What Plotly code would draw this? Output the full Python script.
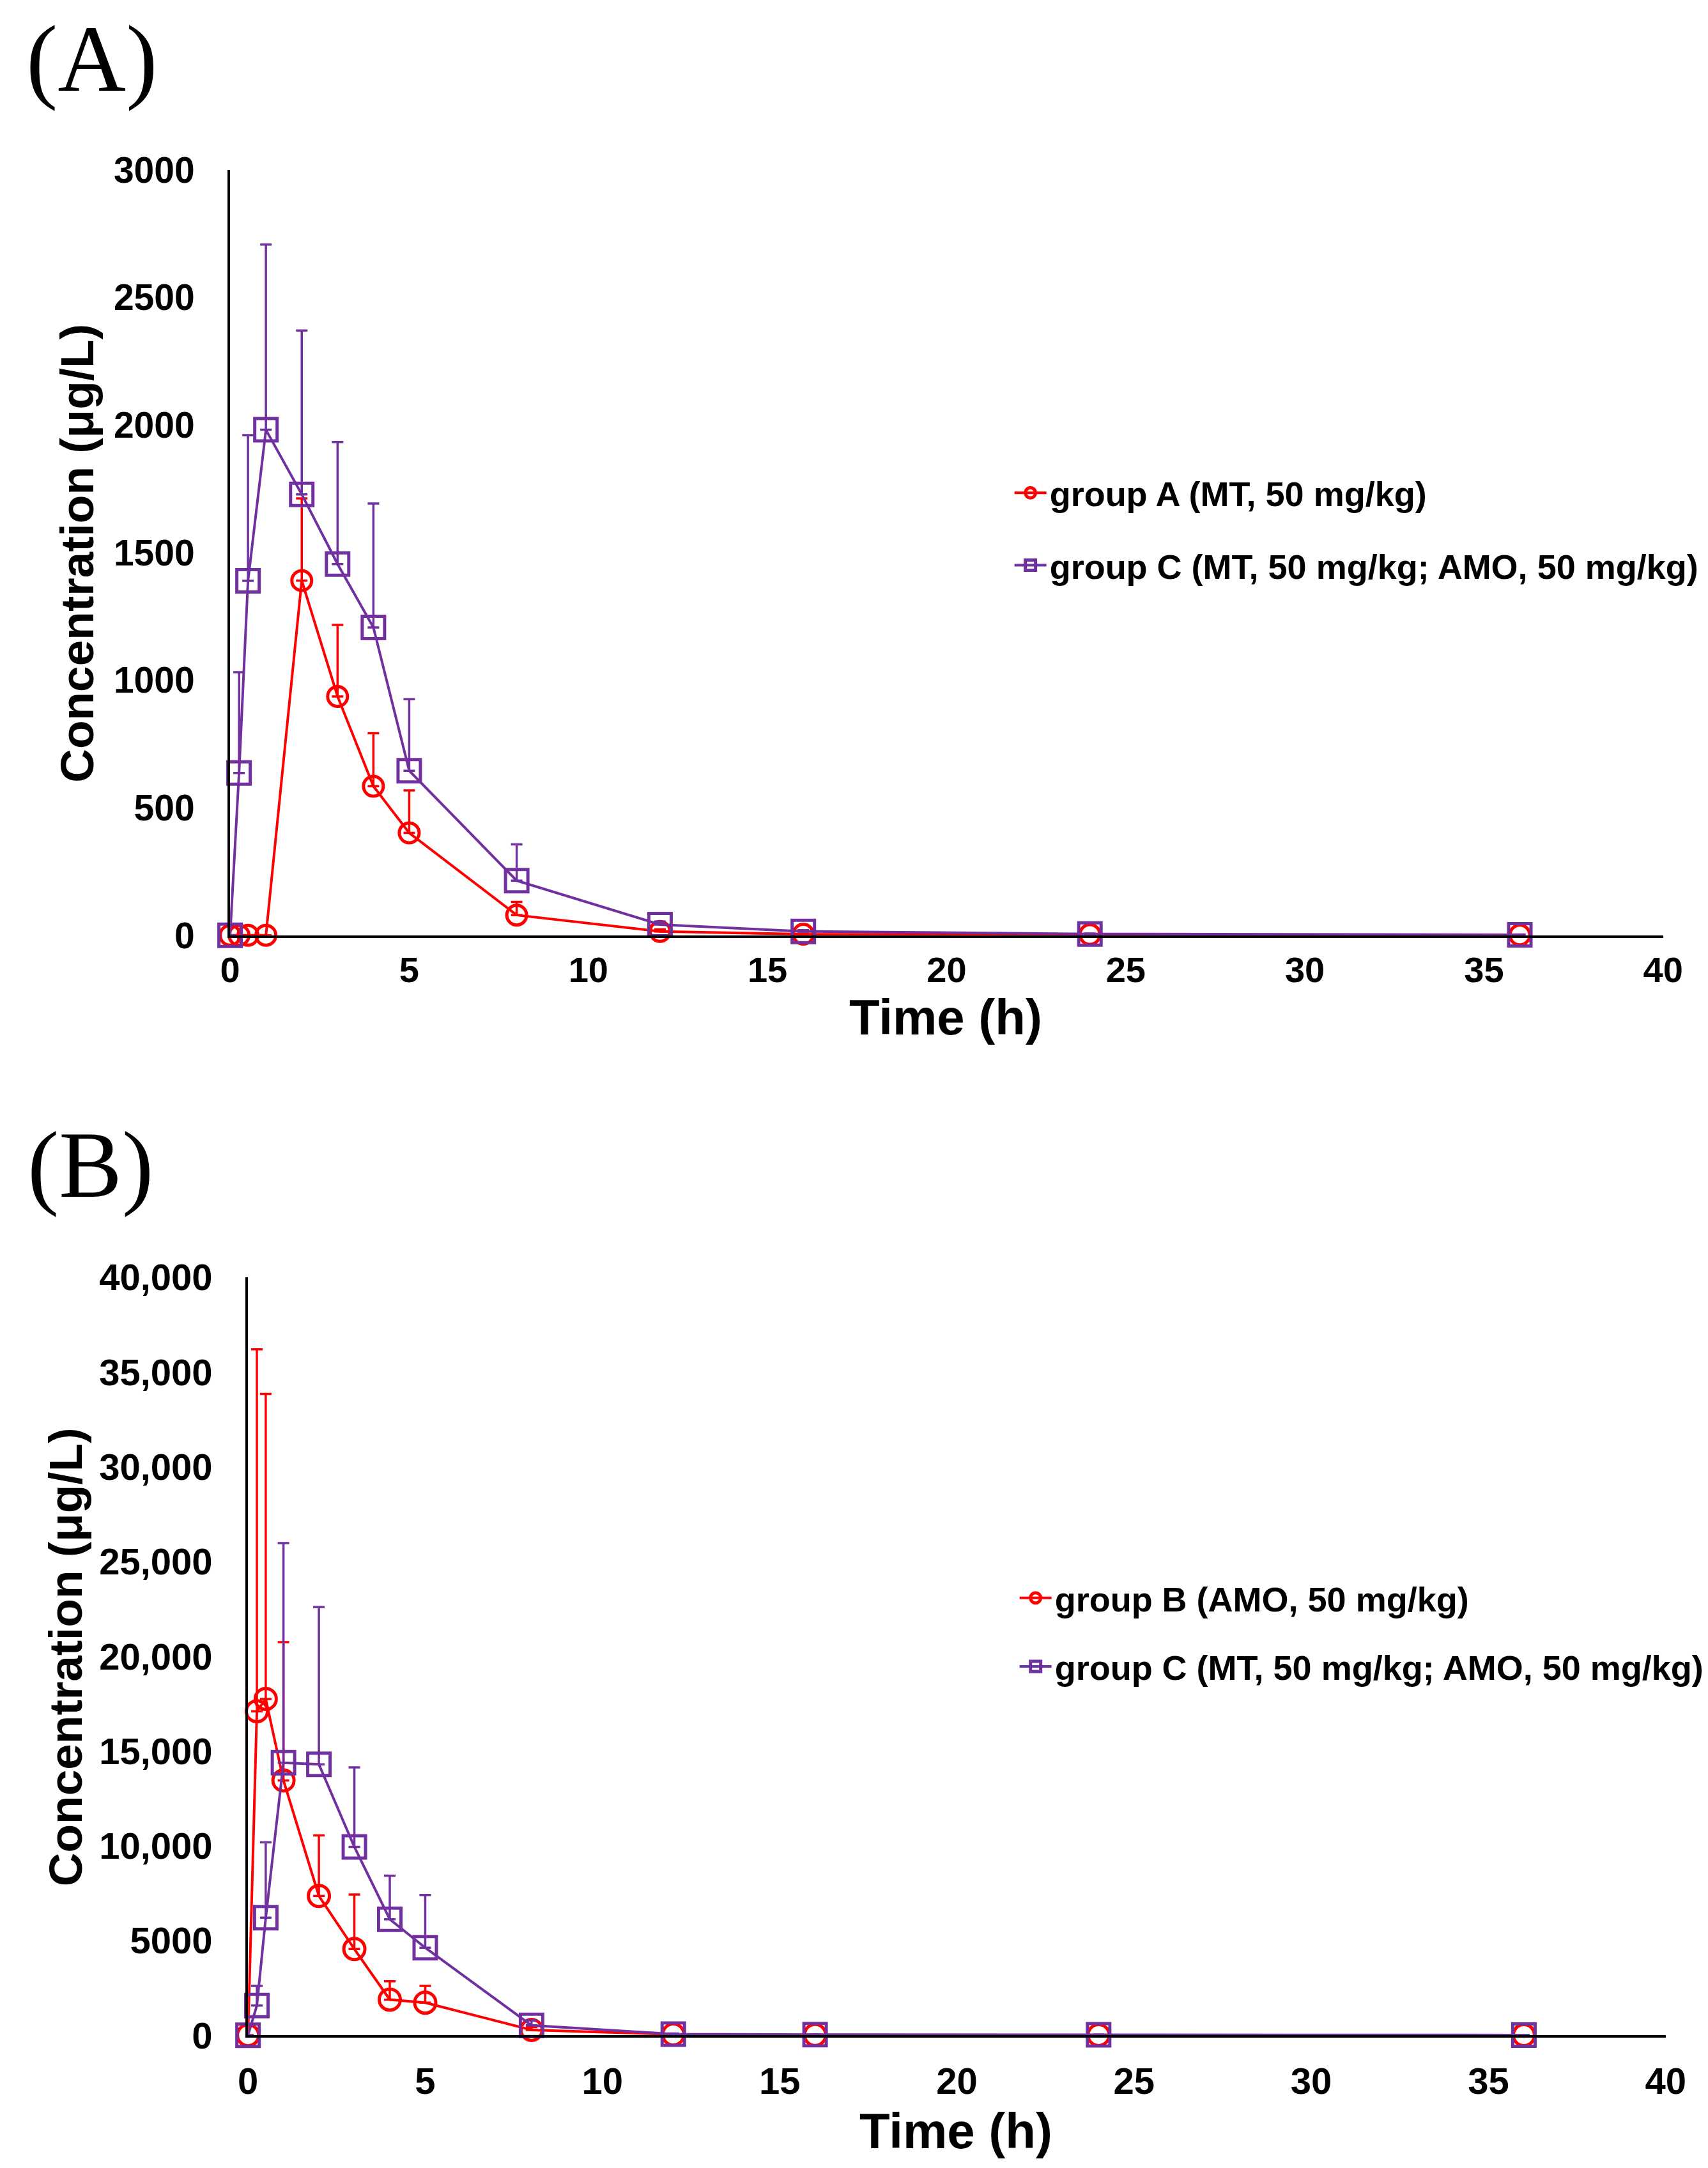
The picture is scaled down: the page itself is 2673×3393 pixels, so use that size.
import plotly.graph_objects as go

W, H = 2673, 3393

# sampling times (h)
t_a = [0, 0.25, 0.5, 1, 2, 3, 4, 5, 8, 12, 16, 24, 36]
t_b = [0, 0.25, 0.5, 1, 2, 3, 4, 5, 8, 12, 16, 24, 36]

# panel A: MT concentration (ug/L), mean and upper SD
grpA_mean = [0, 0, 0, 0, 1390, 936, 584, 401, 79, 15, 4, 3, 1]
grpA_sd = [0, 0, 0, 0, 322, 280, 208, 167, 52, 8, 2, 1, 1]
grpC_mt_mean = [0, 636, 1389, 1981, 1728, 1455, 1206, 645, 214, 42, 15, 5, 2]
grpC_mt_sd = [0, 395, 571, 726, 642, 478, 486, 280, 142, 12, 5, 2, 1]

# panel B: AMO concentration (ug/L), mean and upper SD
grpB_mean = [0, 17100, 17750, 13450, 7350, 4550, 1880, 1720, 280, 40, 15, 10, 5]
grpB_sd = [0, 19100, 16100, 7300, 3200, 2880, 970, 880, 150, 20, 8, 5, 3]
grpC_amo_mean = [0, 1570, 6200, 14380, 14300, 9940, 6120, 4620, 520, 60, 30, 20, 10]
grpC_amo_sd = [0, 1030, 3980, 11600, 8300, 4200, 2300, 2780, 260, 30, 10, 8, 5]

ticks_a = [0, 500, 1000, 1500, 2000, 2500, 3000]
ticks_b = [0, 5000, 10000, 15000, 20000, 25000, 30000, 35000, 40000]
ticktext_b = ["0", "5000", "10,000", "15,000", "20,000", "25,000", "30,000", "35,000", "40,000"]

RED = "#FF0000"
PURPLE = "#7030A0"
SANS = "Liberation Sans, Arial, sans-serif"
SERIF = "Liberation Serif, Times New Roman, serif"

# the page shot comes out slightly shrunk and shifted, so pixel targets are pre-corrected
K, OX, OY = 0.98, 22.6, 41.5


def px_x(p):
    return ((p - OX) / K) / W


def px_y(p):
    return 1 - ((p - OY) / K) / H


def add_series(fig, t, mean, sd, name, color, symbol, size, xa, ya, legend, group):
    fig.add_trace(go.Scatter(
        x=t, y=mean, name=name, mode="lines+markers",
        line=dict(color=color, width=4),
        marker=dict(symbol=symbol, size=size, color=color, line=dict(color=color, width=5)),
        error_y=dict(type="data", array=sd, arrayminus=[0] * len(sd), symmetric=False,
                     color=color, thickness=3.5, width=9),
        xaxis=xa, yaxis=ya, legend=legend, legendgroup=group, cliponaxis=False,
    ))


fig = go.Figure()

add_series(fig, t_a, grpA_mean, grpA_sd, "group A (MT, 50 mg/kg)", RED, "circle-open", 31,
           "x", "y", "legend", "a1")
add_series(fig, t_a, grpC_mt_mean, grpC_mt_sd, "group C (MT, 50 mg/kg; AMO, 50 mg/kg)", PURPLE,
           "square-open", 35, "x", "y", "legend", "a2")
add_series(fig, t_b, grpB_mean, grpB_sd, "group B (AMO, 50 mg/kg)", RED, "circle-open", 33,
           "x2", "y2", "legend2", "b1")
add_series(fig, t_b, grpC_amo_mean, grpC_amo_sd, "group C (MT, 50 mg/kg; AMO, 50 mg/kg)", PURPLE,
           "square-open", 35, "x2", "y2", "legend2", "b2")

axis_common = dict(showgrid=False, zeroline=False, showline=True, linecolor="black", linewidth=4,
                   ticks="", mirror=False)

fig.update_layout(
    width=W, height=H,
    margin=dict(l=0, r=0, t=0, b=0),
    paper_bgcolor="white", plot_bgcolor="white",
    font=dict(family=SANS, color="black"),
    xaxis=dict(domain=[px_x(358), px_x(2596)], range=[0, 40], dtick=5, anchor="y",
               tickfont=dict(size=56, family=SANS, weight="bold"), ticklabelstandoff=2, **axis_common),
    yaxis=dict(domain=[px_y(1463), px_y(266)], range=[0, 3000], tickvals=ticks_a, anchor="x",
               tickfont=dict(size=57, family=SANS, weight="bold"), ticklabelstandoff=40, **axis_common),
    xaxis2=dict(domain=[px_x(386), px_x(2600)], range=[0, 40], dtick=5, anchor="y2",
                tickfont=dict(size=58, family=SANS, weight="bold"), ticklabelstandoff=18, **axis_common),
    yaxis2=dict(domain=[px_y(3183), px_y(1998)], range=[0, 40000], tickvals=ticks_b, ticktext=ticktext_b,
                anchor="x2", tickfont=dict(size=58, family=SANS, weight="bold"), ticklabelstandoff=40,
                **axis_common),
    legend=dict(x=px_x(1578), y=px_y(828), xanchor="left", yanchor="middle", traceorder="grouped",
                tracegroupgap=40, itemwidth=50, bgcolor="rgba(0,0,0,0)",
                font=dict(size=54, family=SANS, weight="bold")),
    legend2=dict(x=px_x(1586), y=px_y(2553), xanchor="left", yanchor="middle", traceorder="grouped",
                 tracegroupgap=34, itemwidth=50, bgcolor="rgba(0,0,0,0)",
                 font=dict(size=54, family=SANS, weight="bold")),
)

labels = [
    ("(A)", 142, 92, 148, SERIF, "normal", 0),
    ("(B)", 140, 1822, 148, SERIF, "normal", 0),
    ("Time (h)", 1476, 1591, 78, SANS, "bold", 0),
    ("Time (h)", 1492, 3333, 78, SANS, "bold", 0),
    ("Concentration (μg/L)", 119, 866, 73, SANS, "bold", -90),
    ("Concentration (μg/L)", 101, 2592, 73, SANS, "bold", -90),
]
for text, lx, ly, size, fam, weight, ang in labels:
    fig.add_annotation(text=text, x=px_x(lx), y=px_y(ly), xref="paper", yref="paper",
                       xanchor="center", yanchor="middle", showarrow=False, textangle=ang,
                       font=dict(size=size, family=fam, weight=weight, color="black"))

fig.write_html("out.html")
